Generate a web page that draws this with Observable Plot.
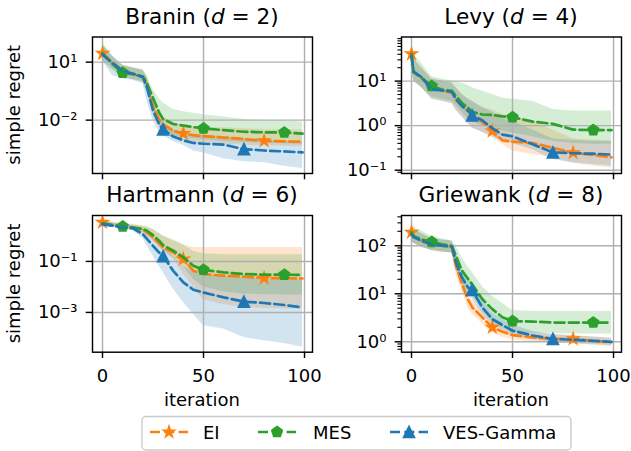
<!DOCTYPE html>
<html><head><meta charset="utf-8">
<script src="https://cdn.jsdelivr.net/npm/d3@7"></script>
<script src="https://cdn.jsdelivr.net/npm/@observablehq/plot@0.6"></script>
<style>
html,body{margin:0;padding:0;background:#fff;}
#wrap{position:relative;width:631px;height:451px;overflow:hidden;font-family:"DejaVu Sans";}
.panel{position:absolute;}
#overlay{position:absolute;left:0;top:0;pointer-events:none;}
</style></head><body><div id="wrap"></div>
<script>
// iteration grid at which values were read (all values below are log10 of simple regret)
const iters = [0, 1, 5, 10, 15, 20, 22, 25, 28, 30, 35, 40, 45, 50, 60, 70, 80, 90, 99];

const methods = ["EI", "MES", "VES-Gamma"];
const colors = ["#ff7f0e", "#2ca02c", "#1f77b4"];
const markerIters = [[0, 40, 80], [10, 50, 90], [30, 70]];
const xTicks = [0, 50, 100];

// Branin (d = 2)
const braninEI     = [1.45, 1.35, 0.97, 0.55, 0.4, 0.25, -0.1, -1.28, -1.97, -2.22, -2.55, -2.69, -2.78, -2.83, -2.9, -2.98, -3.07, -3.1, -3.12];
const braninEILo   = [1.1, 1.0, 0.65, 0.25, 0.1, -0.05, -0.5, -1.7, -2.35, -2.6, -2.9, -3.05, -3.15, -3.2, -3.25, -3.3, -3.33, -3.35, -3.36];
const braninEIHi   = [1.85, 1.75, 1.3, 0.85, 0.72, 0.6, 0.3, -0.8, -1.6, -1.85, -2.15, -2.25, -2.33, -2.38, -2.4, -2.45, -2.5, -2.5, -2.52];
const braninMES    = [1.45, 1.35, 0.9, 0.45, 0.38, 0.25, -0.1, -0.85, -1.6, -1.95, -2.2, -2.28, -2.36, -2.43, -2.52, -2.6, -2.63, -2.64, -2.7];
const braninMESLo  = [1.05, 0.95, 0.6, 0.2, 0.1, 0.0, -0.5, -1.5, -2.2, -2.5, -2.8, -2.9, -2.95, -3.0, -3.1, -3.15, -3.2, -3.22, -3.25];
const braninMESHi  = [2.0, 1.85, 1.3, 0.8, 0.7, 0.6, 0.3, -0.4, -0.9, -1.1, -1.45, -1.57, -1.65, -1.72, -1.84, -1.97, -2.02, -2.05, -2.09];
const braninVES    = [1.4, 1.3, 0.95, 0.55, 0.4, 0.22, -0.3, -1.5, -2.2, -2.48, -2.85, -3.05, -3.18, -3.22, -3.27, -3.5, -3.57, -3.62, -3.67];
const braninVESLo  = [1.0, 0.9, 0.3, 0.15, 0.05, -0.1, -1.0, -2.0, -2.6, -2.8, -3.1, -3.3, -3.6, -3.7, -4.0, -4.15, -4.2, -4.38, -4.5];
const braninVESHi  = [1.9, 1.8, 1.3, 0.85, 0.7, 0.55, 0.2, -1.0, -1.8, -2.1, -2.5, -2.65, -2.75, -2.8, -2.85, -2.95, -3.05, -3.1, -3.12];

// Levy (d = 4)
const levyEI     = [1.61, 1.2, 1.07, 0.85, 0.79, 0.74, 0.59, 0.44, 0.33, 0.25, 0.09, -0.12, -0.33, -0.36, -0.39, -0.5, -0.61, -0.66, -0.71];
const levyEILo   = [1.3, 1.0, 0.85, 0.6, 0.55, 0.5, 0.35, 0.2, 0.05, -0.05, -0.15, -0.27, -0.42, -0.57, -0.65, -0.72, -0.84, -0.91, -0.95];
const levyEIHi   = [1.9, 1.5, 1.3, 1.05, 1.0, 0.95, 0.85, 0.7, 0.6, 0.55, 0.4, 0.35, 0.25, 0.2, 0.1, -0.1, -0.3, -0.33, -0.35];
const levyMES    = [1.61, 1.22, 1.07, 0.89, 0.81, 0.78, 0.66, 0.51, 0.4, 0.31, 0.25, 0.24, 0.21, 0.19, 0.09, 0.04, -0.09, -0.1, -0.1];
const levyMESLo  = [1.3, 1.0, 0.85, 0.65, 0.6, 0.55, 0.45, 0.3, 0.15, 0.1, 0.0, -0.05, -0.12, -0.16, -0.25, -0.35, -0.4, -0.42, -0.42];
const levyMESHi  = [1.99, 1.6, 1.4, 1.1, 1.05, 1.0, 0.98, 0.95, 0.9, 0.85, 0.78, 0.7, 0.62, 0.59, 0.55, 0.36, 0.33, 0.33, 0.33];
const levyVES    = [1.55, 1.2, 1.09, 0.81, 0.79, 0.76, 0.59, 0.44, 0.33, 0.23, 0.12, -0.06, -0.2, -0.24, -0.42, -0.6, -0.62, -0.63, -0.65];
const levyVESLo  = [1.3, 1.0, 0.85, 0.6, 0.55, 0.5, 0.35, 0.2, 0.05, -0.05, -0.15, -0.25, -0.35, -0.4, -0.54, -0.76, -0.84, -0.87, -0.91];
const levyVESHi  = [1.9, 1.5, 1.3, 1.05, 1.0, 0.95, 0.85, 0.7, 0.6, 0.55, 0.42, 0.3, 0.15, 0.1, -0.1, -0.3, -0.33, -0.35, -0.35];

// Hartmann (d = 6)
const hartEI     = [0.53, 0.5, 0.42, 0.37, 0.33, 0.24, 0.14, -0.06, -0.28, -0.45, -0.65, -0.91, -1.37, -1.5, -1.56, -1.6, -1.65, -1.66, -1.67];
const hartEILo   = [0.45, 0.43, 0.35, 0.3, 0.25, 0.1, 0.0, -0.2, -0.45, -0.6, -0.9, -1.5, -2.0, -2.5, -2.7, -2.8, -2.85, -2.87, -2.87];
const hartEIHi   = [0.6, 0.6, 0.55, 0.5, 0.45, 0.4, 0.35, 0.25, 0.1, 0.0, -0.2, -0.35, -0.45, -0.45, -0.45, -0.45, -0.45, -0.45, -0.45];
const hartMES    = [0.5, 0.48, 0.42, 0.37, 0.33, 0.27, 0.2, 0.03, -0.19, -0.36, -0.58, -0.84, -1.17, -1.33, -1.43, -1.5, -1.52, -1.52, -1.53];
const hartMESLo  = [0.42, 0.4, 0.35, 0.3, 0.25, 0.15, 0.05, -0.15, -0.4, -0.55, -0.85, -1.2, -1.7, -2.0, -2.2, -2.28, -2.3, -2.32, -2.32];
const hartMESHi  = [0.6, 0.58, 0.52, 0.47, 0.43, 0.38, 0.35, 0.25, 0.1, 0.0, -0.15, -0.35, -0.6, -0.7, -0.74, -0.74, -0.74, -0.74, -0.74];
const hartVES    = [0.46, 0.44, 0.4, 0.33, 0.3, 0.07, -0.12, -0.39, -0.65, -0.8, -1.37, -1.82, -2.11, -2.22, -2.41, -2.58, -2.63, -2.71, -2.8];
const hartVESLo  = [0.4, 0.38, 0.33, 0.25, 0.2, -0.1, -0.4, -0.78, -1.17, -1.43, -2.08, -2.6, -3.07, -3.52, -3.65, -3.98, -4.11, -4.22, -4.37];
const hartVESHi  = [0.55, 0.53, 0.5, 0.45, 0.4, 0.3, 0.15, -0.05, -0.3, -0.45, -0.8, -1.2, -1.4, -1.5, -1.6, -1.65, -1.7, -1.7, -1.72];

// Griewank (d = 8)
const griewEI    = [2.28, 2.2, 2.1, 2.03, 2.0, 1.97, 1.58, 1.2, 0.875, 0.72, 0.51, 0.3, 0.21, 0.14, 0.09, 0.06, 0.06, 0.02, -0.01];
const griewEILo  = [2.1, 2.05, 1.97, 1.9, 1.87, 1.85, 1.4, 1.05, 0.7, 0.58, 0.38, 0.18, 0.1, 0.04, 0.0, -0.03, -0.04, -0.07, -0.1];
const griewEIHi  = [2.45, 2.35, 2.25, 2.15, 2.12, 2.1, 1.8, 1.38, 1.05, 0.88, 0.65, 0.45, 0.33, 0.26, 0.19, 0.15, 0.13, 0.1, 0.07];
const griewMES   = [2.28, 2.2, 2.13, 2.08, 2.03, 2.0, 1.79, 1.48, 1.31, 1.2, 0.89, 0.68, 0.51, 0.43, 0.42, 0.4, 0.4, 0.4, 0.4];
const griewMESLo = [2.1, 2.05, 1.97, 1.9, 1.87, 1.85, 1.55, 1.2, 1.05, 0.95, 0.65, 0.45, 0.3, 0.2, 0.18, 0.17, 0.16, 0.16, 0.16];
const griewMESHi = [2.55, 2.4, 2.3, 2.2, 2.15, 2.1, 2.0, 1.75, 1.55, 1.45, 1.15, 0.95, 0.8, 0.65, 0.63, 0.63, 0.63, 0.63, 0.63];
const griewVES   = [2.24, 2.18, 2.1, 2.03, 2.0, 1.98, 1.65, 1.34, 1.13, 1.08, 0.72, 0.47, 0.35, 0.23, 0.13, 0.06, 0.04, 0.02, 0.0];
const griewVESLo = [2.1, 2.05, 1.97, 1.9, 1.87, 1.85, 1.5, 1.2, 0.98, 0.9, 0.58, 0.35, 0.24, 0.13, 0.04, -0.02, -0.04, -0.06, -0.08];
const griewVESHi = [2.45, 2.35, 2.25, 2.15, 2.12, 2.1, 1.85, 1.5, 1.3, 1.25, 0.88, 0.6, 0.47, 0.35, 0.22, 0.15, 0.12, 0.1, 0.08];

// matplotlib-like marker shapes
const starSym = {draw(ctx, size) {
  const R = Math.sqrt(size / Math.PI), r = R * 0.381966;
  for (let i = 0; i < 10; i++) {
    const a = -Math.PI / 2 + i * Math.PI / 5, rr = i % 2 ? r : R;
    const x = rr * Math.cos(a), y = rr * Math.sin(a);
    i ? ctx.lineTo(x, y) : ctx.moveTo(x, y);
  }
  ctx.closePath();
}};
const pentSym = {draw(ctx, size) {
  const R = Math.sqrt(size / Math.PI);
  for (let i = 0; i < 5; i++) {
    const a = -Math.PI / 2 + i * 2 * Math.PI / 5;
    const x = R * Math.cos(a), y = R * Math.sin(a);
    i ? ctx.lineTo(x, y) : ctx.moveTo(x, y);
  }
  ctx.closePath();
}};
const triSym = {draw(ctx, size) {
  const R = Math.sqrt(size / Math.PI);
  ctx.moveTo(0, -R); ctx.lineTo(R, R); ctx.lineTo(-R, R); ctx.closePath();
}};
const symbols = [starSym, pentSym, triSym];

const supMap = {"-": "\u207B", "0": "\u2070", "1": "\u00B9", "2": "\u00B2", "3": "\u00B3", "4": "\u2074", "5": "\u2075", "6": "\u2076", "7": "\u2077", "8": "\u2078", "9": "\u2079"};
const powFmt = d => "10" + String(Math.round(Math.log10(d))).split("").map(c => supMap[c]).join("");

const GRID = "#b0b0b0", LW = 1.44;

function makePanel(cfg) {
  const marks = [];
  const rowsList = cfg.series.map(s => iters.map((it, i) => ({iter: it, med: 10 ** s[0][i], lo: 10 ** s[1][i], hi: 10 ** s[2][i]})));
  rowsList.forEach((rows, k) => {
    marks.push(Plot.areaY(rows, {x: "iter", y1: "lo", y2: "hi", fill: colors[k], fillOpacity: 0.2}));
  });
  marks.push(Plot.gridX(xTicks, {stroke: GRID, strokeOpacity: 1, strokeWidth: LW}));
  marks.push(Plot.gridY(cfg.yTicks, {stroke: GRID, strokeOpacity: 1, strokeWidth: LW}));
  rowsList.forEach((rows, k) => {
    marks.push(Plot.lineY(rows, {x: "iter", y: "med", stroke: colors[k], strokeWidth: 2.7, strokeDasharray: "10,4.3"}));
    marks.push(Plot.dot(rows.filter(d => markerIters[k].includes(d.iter)), {x: "iter", y: "med", symbol: symbols[k], r: 5.4, fill: colors[k], stroke: colors[k], strokeWidth: 1.8}));
  });
  marks.push(Plot.axisX(xTicks, {tickSize: 6.3, tickPadding: 10.7, strokeWidth: LW, label: null,
    tickFormat: cfg.xLabels ? (d => String(d)) : (() => "")}));
  marks.push(Plot.axisY(cfg.yTicks, {tickSize: 6.3, tickPadding: 8.7, strokeWidth: LW, label: null, tickFormat: powFmt}));
  if (cfg.minor) {
    const [lo, hi] = cfg.yExp;
    const minor = [];
    for (let e = Math.floor(lo); e <= Math.ceil(hi); e++)
      for (let m = 2; m <= 9; m++) {
        const v = m * 10 ** e;
        if (Math.log10(v) >= lo && Math.log10(v) <= hi) minor.push(v);
      }
    marks.push(Plot.axisY(minor, {tickSize: 3.6, strokeWidth: 1.1, label: null, tickFormat: () => ""}));
  }
  marks.push(Plot.frame({stroke: "black", strokeWidth: LW}));
  const svg = Plot.plot({
    width: cfg.w, height: cfg.h,
    marginLeft: cfg.ml, marginRight: cfg.mr, marginTop: cfg.mt, marginBottom: cfg.mb,
    x: {domain: [-4.95, 103.95]},
    y: {type: "log", domain: [10 ** cfg.yExp[0], 10 ** cfg.yExp[1]]},
    style: {fontFamily: "DejaVu Sans", fontSize: "18px", color: "black", background: "transparent", overflow: "visible"},
    marks
  });
  svg.classList.add("panel");
  svg.style.left = cfg.left + "px";
  svg.style.top = cfg.top + "px";
  svg.style.position = "absolute";
  return svg;
}

const wrap = document.getElementById("wrap");
wrap.appendChild(makePanel({left: 0, top: 0, w: 316, h: 190, ml: 92, mr: 4, mt: 36.5, mb: 17,
  yExp: [-4.76, 2.30], yTicks: [10, 0.01], xLabels: false, minor: false,
  series: [[braninEI, braninEILo, braninEIHi], [braninMES, braninMESLo, braninMESHi], [braninVES, braninVESLo, braninVESHi]]}));
wrap.appendChild(makePanel({left: 316, top: 0, w: 315, h: 190, ml: 85, mr: 10, mt: 36.5, mb: 17,
  yExp: [-1.074, 1.99], yTicks: [10, 1, 0.1], xLabels: false, minor: true,
  series: [[levyEI, levyEILo, levyEIHi], [levyMES, levyMESLo, levyMESHi], [levyVES, levyVESLo, levyVESHi]]}));
wrap.appendChild(makePanel({left: 0, top: 190, w: 316, h: 226, ml: 92, mr: 4, mt: 25, mb: 64.3,
  yExp: [-4.56, 0.80], yTicks: [0.1, 0.001], xLabels: true, minor: false,
  series: [[hartEI, hartEILo, hartEIHi], [hartMES, hartMESLo, hartMESHi], [hartVES, hartVESLo, hartVESHi]]}));
wrap.appendChild(makePanel({left: 316, top: 190, w: 315, h: 226, ml: 85, mr: 10, mt: 25, mb: 64.3,
  yExp: [-0.217, 2.63], yTicks: [100, 10, 1], xLabels: true, minor: true,
  series: [[griewEI, griewEILo, griewEIHi], [griewMES, griewMESLo, griewMESHi], [griewVES, griewVESLo, griewVESHi]]}));

// overlay: titles, axis labels, legend
const ns = "http://www.w3.org/2000/svg";
const ov = d3.select(wrap).append("svg").attr("id", "overlay").attr("width", 631).attr("height", 451)
  .attr("font-family", "DejaVu Sans").attr("fill", "black");

const titles = [["Branin", "2", 202, 23.5], ["Levy", "4", 511, 24], ["Hartmann", "6", 202, 201.5], ["Griewank", "8", 511, 201.5]];
titles.forEach(([name, d, cx, by]) => {
  const t = ov.append("text").attr("x", cx).attr("y", by).attr("text-anchor", "middle").attr("font-size", 21.6);
  t.append("tspan").text(name + " (");
  t.append("tspan").attr("font-style", "italic").text("d");
  t.append("tspan").text(" = " + d + ")");
});
[104.75, 283.4].forEach(cy => {
  ov.append("text").attr("transform", `translate(20,${cy}) rotate(-90)`).attr("text-anchor", "middle")
    .attr("font-size", 18).text("simple regret");
});
[202, 511].forEach(cx => {
  ov.append("text").attr("x", cx).attr("y", 406).attr("text-anchor", "middle").attr("font-size", 18).text("iteration");
});

// legend
ov.append("rect").attr("x", 142).attr("y", 416.5).attr("width", 429).attr("height", 33.5).attr("rx", 4)
  .attr("fill", "white").attr("stroke", "#cccccc").attr("stroke-width", 1.4);
const legendPos = [[150, 203], [258, 313], [390, 443]];
methods.forEach((m, k) => {
  const [hx, tx] = legendPos[k];
  ov.append("line").attr("x1", hx).attr("x2", hx + 38).attr("y1", 432).attr("y2", 432)
    .attr("stroke", colors[k]).attr("stroke-width", 2.7).attr("stroke-dasharray", "10,4.3");
  ov.append("path").attr("d", d3.symbol(symbols[k], Math.PI * 5.4 * 5.4)())
    .attr("transform", `translate(${hx + 19},432)`).attr("fill", colors[k]).attr("stroke", colors[k]).attr("stroke-width", 1.8);
  ov.append("text").attr("x", tx).attr("y", 438.5).attr("font-size", 18).text(m);
});
</script>
</body></html>
